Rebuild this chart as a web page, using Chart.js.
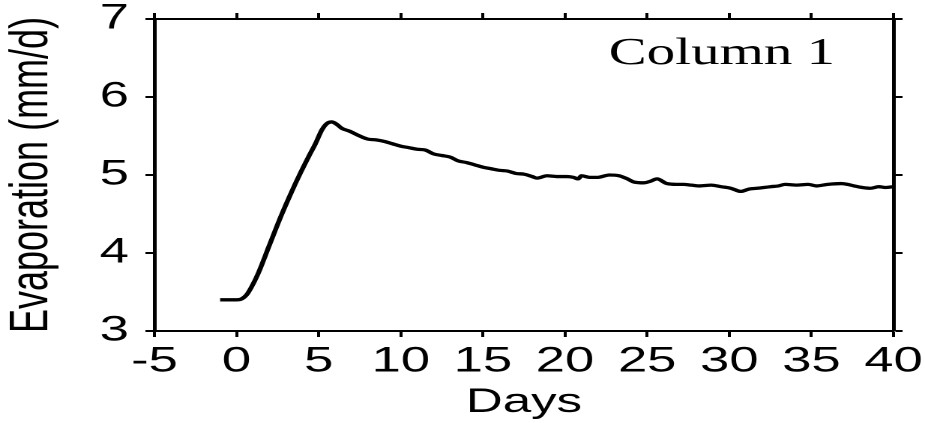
<!DOCTYPE html>
<html>
<head>
<meta charset="utf-8">
<script src="https://cdn.jsdelivr.net/npm/chart.js@4"></script>
<style>
    html, body { margin: 0; padding: 0; background: #fff; overflow: hidden; }
    #wrap {
        position: relative;
        width: 617px;
        height: 423px;
        transform: scaleX(1.4992);
        transform-origin: 0 0;
    }
</style>
</head>
<body>
<div id="wrap"><canvas id="evapChart"></canvas></div>
<script>
// Dados
const days = [-1.0, -0.5, 0.0, 0.3, 0.6, 0.9, 1.3, 2.0, 2.7, 3.3, 3.9, 4.4, 4.8, 5.2, 5.5, 5.8,
    6.1, 6.4, 6.9, 7.5, 8.0, 8.5, 9.0, 9.5, 10.0, 10.5, 11.0, 11.5, 12.0, 12.5, 13.0, 13.5,
    14.0, 14.5, 15.0, 15.5, 16.0, 16.5, 17.0, 17.5, 18.0, 18.3, 18.9, 19.5, 20.1, 20.5, 20.8,
    21.0, 21.5, 22.0, 22.7, 23.3, 23.8, 24.2, 24.8, 25.2, 25.6, 26.2, 26.8, 27.2, 27.7, 28.2,
    28.9, 29.5, 30.1, 30.7, 31.2, 31.7, 32.5, 33.0, 33.4, 34.1, 34.8, 35.3, 36.0, 36.8, 37.2,
    37.6, 38.1, 38.6, 39.1, 39.5, 40.0];
const evaporation = [3.40, 3.40, 3.40, 3.41, 3.46, 3.56, 3.73, 4.10, 4.47, 4.76, 5.03, 5.24, 5.40, 5.58, 5.66, 5.68,
    5.65, 5.60, 5.56, 5.50, 5.46, 5.45, 5.43, 5.40, 5.37, 5.35, 5.33, 5.32, 5.27, 5.25, 5.23, 5.18,
    5.16, 5.13, 5.10, 5.08, 5.06, 5.05, 5.02, 5.01, 4.98, 4.96, 4.99, 4.98, 4.98, 4.97, 4.95,
    4.99, 4.97, 4.97, 5.00, 4.99, 4.95, 4.91, 4.90, 4.92, 4.95, 4.89, 4.88, 4.88, 4.87, 4.86,
    4.87, 4.85, 4.83, 4.79, 4.82, 4.83, 4.85, 4.86, 4.88, 4.87, 4.88, 4.86, 4.88, 4.89, 4.88,
    4.86, 4.84, 4.83, 4.85, 4.84, 4.85];
const xTicks = [-5, 0, 5, 10, 15, 20, 25, 30, 35, 40];
const yTicks = [3, 4, 5, 6, 7];
const panelLabel = 'Column 1';

const sans = "'Liberation Sans', Arial, sans-serif";
const serif = "'Liberation Serif', 'Times New Roman', serif";

// Texto "Column 1" dentro da area do grafico
const panelLabelPlugin = {
    id: 'panelLabel',
    afterDraw(chart) {
        const ctx = chart.ctx;
        const area = chart.chartArea;
        ctx.save();
        ctx.font = '38px ' + serif;
        ctx.fillStyle = '#000';
        ctx.textAlign = 'right';
        ctx.textBaseline = 'alphabetic';
        ctx.fillText(panelLabel, area.right - 39, area.top + 45);
        ctx.restore();
    }
};

// Sem margem extra por causa dos rotulos que passam da borda
function noPadding(s) {
    s.paddingTop = 0;
    s.paddingBottom = 0;
    s.paddingLeft = 0;
    s.paddingRight = 0;
}

function sideScale(axis, position, ticks, width) {
    return {
        type: 'linear',
        position: position,
        min: ticks[0],
        max: ticks[ticks.length - 1],
        afterBuildTicks: s => { s.ticks = ticks.map(v => ({ value: v })); },
        grid: { drawOnChartArea: false, tickLength: 6, tickWidth: 2, tickColor: '#000' },
        border: { color: '#000', width: width },
        ticks: { display: false },
        afterFit: s => {
            noPadding(s);
            if (axis === 'x') s.height = 19; else s.width = 21;
        }
    };
}

const ctx = document.getElementById('evapChart').getContext('2d');
new Chart(ctx, {
    type: 'line',
    data: {
        datasets: [{
            data: days.map((d, i) => ({ x: d, y: evaporation[i] })),
            borderColor: '#000',
            borderWidth: 3.3,
            pointRadius: 0,
            cubicInterpolationMode: 'monotone',
            fill: false
        }]
    },
    plugins: [panelLabelPlugin],
    options: {
        responsive: true,
        maintainAspectRatio: false,
        animation: false,
        devicePixelRatio: 2,
        layout: { padding: 0 },
        plugins: { legend: { display: false }, tooltip: { enabled: false } },
        scales: {
            x: {
                type: 'linear',
                position: 'bottom',
                min: xTicks[0],
                max: xTicks[xTicks.length - 1],
                afterBuildTicks: s => { s.ticks = xTicks.map(v => ({ value: v })); },
                grid: { drawOnChartArea: false, tickLength: 6, tickWidth: 2, tickColor: '#000' },
                border: { color: '#000', width: 2 },
                ticks: { color: '#000', padding: 4, maxRotation: 0, font: { family: sans, size: 35 } },
                title: { display: true, text: 'Days', color: '#000', padding: { top: 0, bottom: 0 }, font: { family: sans, size: 34 } },
                afterFit: s => { noPadding(s); s.height = 92; }
            },
            y: {
                type: 'linear',
                position: 'left',
                min: yTicks[0],
                max: yTicks[yTicks.length - 1],
                afterBuildTicks: s => { s.ticks = yTicks.map(v => ({ value: v })); },
                grid: { drawOnChartArea: false, tickLength: 6, tickWidth: 2, tickColor: '#000' },
                border: { color: '#000', width: 2.5 },
                ticks: { color: '#000', padding: 11, font: { family: sans, size: 35 } },
                title: { display: true, text: 'Evaporation (mm/d)', color: '#000', padding: { top: 0, bottom: 0 }, font: { family: sans, size: 36 } },
                afterFit: s => { noPadding(s); s.width = 103; }
            },
            x2: sideScale('x', 'top', xTicks, 2),
            y2: sideScale('y', 'right', yTicks, 2.5)
        }
    }
});
</script>
</body>
</html>
